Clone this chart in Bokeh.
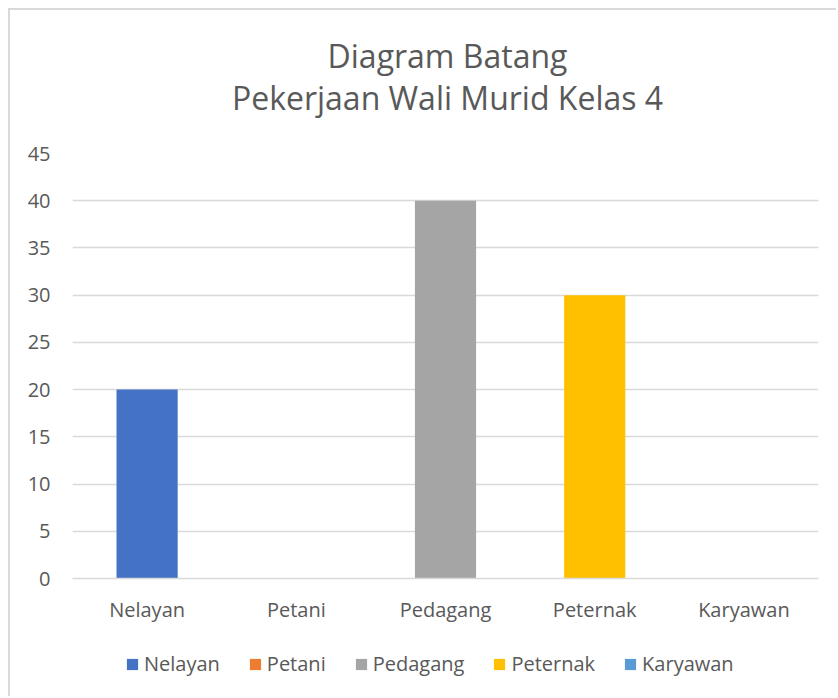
from bokeh.plotting import figure
from bokeh.models import (ColumnDataSource, FixedTicker, Legend, LegendItem,
                          Label, Range1d, FactorRange)
from bokeh.layouts import column
from bokeh.embed import file_html
from bokeh.resources import INLINE

categories = ["Nelayan", "Petani", "Pedagang", "Peternak", "Karyawan"]
values = [20, 0, 40, 30, 0]
colors = ["#4472C4", "#ED7D31", "#A5A5A5", "#FFC000", "#5B9BD5"]
y_ticks = [0, 5, 10, 15, 20, 25, 30, 35, 40, 45]
title_line1 = "Diagram Batang"
title_line2 = "Pekerjaan Wali Murid Kelas 4"

FONT = "Open Sans"
GREY = "#595959"

source = ColumnDataSource(dict(cat=categories, val=values, color=colors))

def bare(fig):
    fig.axis.visible = False
    fig.grid.grid_line_color = None
    fig.outline_line_color = None

# ---- title strip ----
tt = figure(width=826, height=128, output_backend="svg", toolbar_location=None,
            x_range=Range1d(0, 1), y_range=Range1d(0, 1),
            min_border_left=0, min_border_right=0, min_border_top=0,
            min_border_bottom=0)
bare(tt)
tt.add_layout(Label(x=375, y=83, x_units="screen", y_units="screen",
                    text=title_line1, text_align="center",
                    text_baseline="alphabetic", text_font=FONT,
                    text_font_size="32px", text_color=GREY))
tt.add_layout(Label(x=375, y=41, x_units="screen", y_units="screen",
                    text=title_line2, text_align="center",
                    text_baseline="alphabetic", text_font=FONT,
                    text_font_size="32px", text_color=GREY))

# ---- main chart ----
p = figure(x_range=categories, y_range=(0, 45), width=826, height=512,
           output_backend="svg", toolbar_location=None, title=None,
           min_border_left=62, min_border_right=18, min_border_top=15,
           min_border_bottom=72)
p.outline_line_color = None

p.vbar(x="cat", top="val", width=0.41, source=source, fill_color="color",
       line_color=None)

p.yaxis.ticker = FixedTicker(ticks=y_ticks)
p.yaxis.axis_line_color = None
p.yaxis.major_tick_line_color = None
p.yaxis.minor_tick_line_color = None
p.yaxis.major_tick_out = 0
p.yaxis.major_tick_in = 0
p.yaxis.major_label_text_font = FONT
p.yaxis.major_label_text_font_size = "20px"
p.yaxis.major_label_text_color = GREY
p.yaxis.major_label_standoff = 22

p.xaxis.axis_line_color = "#d9d9d9"
p.xaxis.axis_line_width = 1.5
p.xaxis.major_tick_line_color = None
p.xaxis.minor_tick_line_color = None
p.xaxis.major_tick_out = 0
p.xaxis.major_tick_in = 0
p.xaxis.major_label_text_font = FONT
p.xaxis.major_label_text_font_size = "20px"
p.xaxis.major_label_text_color = GREY
p.xaxis.major_label_standoff = 17

p.xgrid.grid_line_color = None
p.ygrid.grid_line_color = "#d9d9d9"
p.ygrid.grid_line_width = 1.5

# ---- legend strip ----
lg = figure(width=826, height=46, output_backend="svg", toolbar_location=None,
            x_range=FactorRange(*categories), y_range=Range1d(100, 101),
            min_border_left=0, min_border_right=0, min_border_top=0,
            min_border_bottom=0)
bare(lg)
# zero-height copies of the bars: used only for the legend swatches
r = lg.vbar(x="cat", top="val", bottom="val", width=0.41, source=source,
            fill_color="color", line_color=None)
items = [LegendItem(label=cat, renderers=[r], index=i)
         for i, cat in enumerate(categories)]

legend = Legend(items=items, orientation="horizontal", location=(53, 19),
                border_line_color=None, background_fill_alpha=0,
                label_text_font=FONT, label_text_font_size="20px",
                label_text_color=GREY, glyph_width=14, glyph_height=14,
                label_standoff=5, spacing=28, padding=0, margin=0)
lg.add_layout(legend, "center")

layout = column(tt, p, lg, spacing=0,
                styles={"border-top": "2px solid #d9d9d9",
                        "border-left": "2px solid #d9d9d9",
                        "margin-left": "8px", "margin-top": "8px"})

open("out.html", "w").write(file_html(layout, INLINE))
